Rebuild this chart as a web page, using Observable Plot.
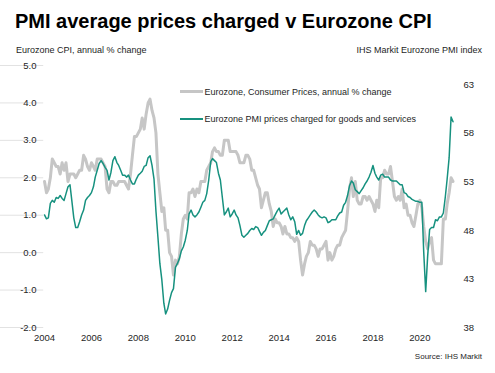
<!DOCTYPE html>
<html><head><meta charset="utf-8">
<script src="https://cdn.jsdelivr.net/npm/d3@7"></script>
<script src="https://cdn.jsdelivr.net/npm/@observablehq/plot@0.6"></script>
<style>
body{margin:0;background:#fff;font-family:"Liberation Sans",Arial,sans-serif;}
#wrap{position:relative;width:495px;height:373px;overflow:hidden;background:#fff;}
.t{position:absolute;white-space:nowrap;line-height:1;color:#1e1e1e;}
.sw{position:absolute;}
</style></head><body>
<div id="wrap">
 <div class="t" style="left:15px;top:11px;font-size:20px;font-weight:bold;color:#000">PMI average prices charged v Eurozone CPI</div>
 <div class="t" style="left:16px;top:45.5px;font-size:9px">Eurozone CPI, annual % change</div>
 <div class="t" style="right:13px;top:45.5px;font-size:9px">IHS Markit Eurozone PMI index</div>
 <div id="chart" style="position:absolute;left:0;top:55px"></div>
 <div class="sw" style="left:180px;top:90.2px;width:23px;height:3px;background:#c6c6c6"></div>
 <div class="t" style="left:204.5px;top:87.6px;font-size:9px">Eurozone, Consumer Prices, annual % change</div>
 <div class="sw" style="left:180px;top:118.3px;width:23px;height:1.5px;background:#16917f"></div>
 <div class="t" style="left:204.5px;top:114.6px;font-size:9px">Eurozone PMI prices charged for goods and services</div>
 <div class="t" style="right:13px;top:352.8px;font-size:8px">Source: IHS Markit</div>
</div>
<script>
// Eurozone CPI, annual % change, monthly Jan 2004 - Jun 2021
const cpi = [
 1.9,1.6,1.7,2.0,2.5,2.4,2.3,2.3,2.1,2.4,2.2,2.4,
 1.9,2.1,2.1,2.1,2.0,2.1,2.2,2.2,2.6,2.5,2.3,2.2,
 2.4,2.3,2.2,2.5,2.5,2.5,2.4,2.3,1.7,1.6,1.9,1.9,
 1.8,1.8,1.9,1.9,1.9,1.9,1.8,1.7,2.1,2.6,3.1,3.1,
 3.2,3.3,3.6,3.3,3.7,4.0,4.1,3.8,3.6,3.2,2.1,1.6,
 1.1,1.2,0.6,0.6,0.0,-0.1,-0.6,-0.2,-0.3,-0.1,0.5,0.9,
 1.0,0.9,1.6,1.6,1.7,1.5,1.7,1.6,1.9,1.9,1.9,2.2,
 2.3,2.4,2.7,2.8,2.7,2.7,2.6,2.6,3.0,3.0,3.0,2.7,
 2.7,2.7,2.7,2.6,2.4,2.4,2.4,2.6,2.6,2.5,2.2,2.2,
 2.0,1.8,1.7,1.2,1.4,1.6,1.6,1.3,1.1,0.7,0.9,0.8,
 0.8,0.7,0.5,0.7,0.5,0.5,0.4,0.4,0.3,0.4,0.3,-0.2,
 -0.6,-0.3,-0.1,0.0,0.3,0.2,0.2,0.1,-0.1,0.1,0.1,0.2,
 0.3,-0.2,0.0,-0.2,-0.1,0.1,0.2,0.2,0.4,0.5,0.6,1.1,
 1.7,2.0,1.5,1.9,1.4,1.3,1.3,1.5,1.5,1.4,1.5,1.4,
 1.3,1.1,1.4,1.2,2.0,2.0,2.2,2.1,2.1,2.3,1.9,1.5,
 1.4,1.5,1.4,1.7,1.2,1.3,1.0,1.0,0.8,0.7,1.0,1.3,
 1.4,1.2,0.7,0.3,0.1,0.3,0.4,-0.2,-0.3,-0.3,-0.3,-0.3,
 0.9,0.9,1.3,1.6,2.0,1.9
];
// Eurozone PMI prices charged (goods and services), index, monthly Jan 2004 - Jun 2021
const pmi = [
 49.6,49.2,49.3,50.8,51.1,50.9,51.4,51.3,51.6,51.3,51.1,51.8,
 52.5,52.7,51.1,49.3,48.3,48.3,48.9,49.6,50.1,51.1,51.4,51.6,
 51.9,52.5,53.5,54.2,54.9,55.2,54.9,54.5,54.2,53.2,54.0,55.2,
 55.6,55.0,54.7,54.2,53.7,53.7,53.5,53.7,53.2,52.8,52.8,53.3,
 53.7,53.9,54.1,54.6,54.7,55.5,55.7,54.7,53.3,50.0,47.3,44.6,
 42.9,40.5,39.4,39.9,40.8,41.6,42.0,44.2,44.6,45.1,45.9,46.3,
 47.0,48.0,49.7,50.1,49.6,49.4,49.6,49.9,50.4,50.9,51.1,51.8,
 53.2,55.1,55.4,55.2,55.0,53.9,53.2,51.4,49.6,49.9,50.3,49.4,
 49.7,50.1,49.6,49.3,48.5,47.5,47.3,47.5,47.7,48.0,48.2,48.1,
 48.4,48.3,47.9,47.5,47.8,48.0,48.5,49.0,49.1,49.2,49.6,50.0,
 50.3,49.7,49.9,50.1,50.3,49.6,49.1,49.4,48.9,47.6,48.0,47.5,
 47.7,48.5,49.0,49.3,49.6,49.9,50.1,49.9,49.6,49.4,49.3,49.4,
 49.3,48.8,48.9,49.1,49.1,49.1,49.5,49.8,49.9,50.6,50.9,51.6,
 52.6,53.1,52.9,52.2,52.0,51.8,52.1,52.4,52.8,53.1,53.5,54.0,
 54.7,53.9,53.5,53.2,53.7,53.8,53.5,53.5,53.5,53.2,53.1,53.1,
 53.1,52.9,52.7,52.7,51.9,51.8,51.5,51.4,51.2,51.1,51.0,51.0,
 50.9,50.9,45.8,41.7,45.3,48.1,48.3,48.3,49.1,49.0,49.4,49.4,
 49.8,51.5,53.3,55.5,59.7,59.2
];
const startYear = 2004;
const xTickYears = [2004,2006,2008,2010,2012,2014,2016,2018,2020];
const leftTicks = [-2,-1,0,1,2,3,4,5];
const rightTicks = [38,43,48,53,58,63];
const leftDomain = [-2, 5];
const rightDomain = [38, 65];

const toLeft = p => (p - rightDomain[0]) / (rightDomain[1] - rightDomain[0]) * (leftDomain[1] - leftDomain[0]) + leftDomain[0];
const toRight = v => (v - leftDomain[0]) / (leftDomain[1] - leftDomain[0]) * (rightDomain[1] - rightDomain[0]) + rightDomain[0];

const data = cpi.map((v, i) => ({date: new Date(Date.UTC(startYear, i, 1)), cpi: v, pmi: pmi[i]}));

const chart = Plot.plot({
  width: 495,
  height: 318,
  marginTop: 10,
  marginBottom: 46,
  marginLeft: 44,
  marginRight: 40,
  style: {fontFamily: "'Liberation Sans', Arial, sans-serif", fontSize: "9.5px", color: "#262626", background: "transparent"},
  x: {type: "utc", domain: [new Date(Date.UTC(2004,0,1)), new Date(Date.UTC(2021,6,9))]},
  y: {domain: leftDomain},
  marks: [
    Plot.ruleY(leftTicks, {stroke: "#e2e2e2", strokeWidth: 1, x1: new Date(Date.UTC(2003,11,20))}),
    Plot.axisX({ticks: xTickYears.map(y => new Date(Date.UTC(y,0,1))), tickFormat: d3.utcFormat("%Y"), tickSize: 0, tickPadding: 7, label: null}),
    Plot.axisY(leftTicks, {anchor: "left", tickSize: 0, tickPadding: 8, tickFormat: d => d.toFixed(1), label: null}),
    Plot.axisY(rightTicks.map(toLeft), {anchor: "right", tickSize: 0, tickPadding: 8, tickFormat: d => String(Math.round(toRight(d))), label: null}),
    Plot.lineY(data, {x: "date", y: "cpi", stroke: "#c6c6c6", strokeWidth: 3, strokeLinejoin: "round"}),
    Plot.lineY(data, {x: "date", y: d => toLeft(d.pmi), stroke: "#16917f", strokeWidth: 1.5, strokeLinejoin: "round"})
  ]
});
document.getElementById("chart").appendChild(chart);
</script>
</body></html>
